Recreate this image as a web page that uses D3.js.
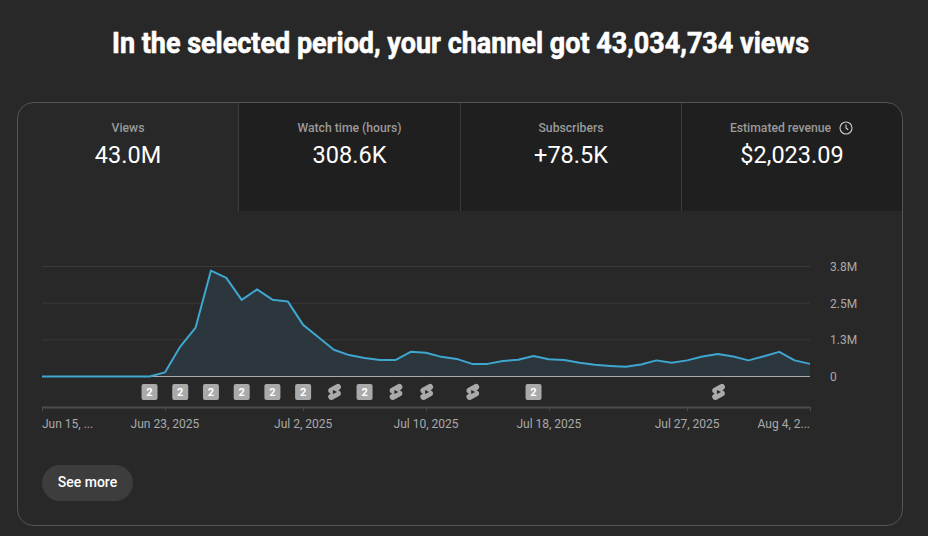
<!DOCTYPE html>
<html>
<head>
<meta charset="utf-8">
<script src="https://cdn.jsdelivr.net/npm/d3@7"></script>
<style>
html, body { margin: 0; padding: 0; background: #282828; overflow: hidden; }
svg { display: block; font-family: Roboto, sans-serif; }
</style>
</head>
<body>
<div id="chart"></div>
<script>
const width = 928;
const height = 536;

const titleText = "In the selected period, your channel got 43,034,734 views";
const tabLabels = ["Views", "Watch time (hours)", "Subscribers", "Estimated revenue"];
const tabValues = ["43.0M", "308.6K", "+78.5K", "$2,023.09"];

// daily views in millions, Jun 15 to Aug 4 2025
const dailyViews = [
    0, 0, 0, 0, 0, 0, 0, 0, 0.14, 1.02,
    1.67, 3.61, 3.36, 2.61, 2.97, 2.62, 2.56, 1.76, 1.34, 0.91,
    0.73, 0.63, 0.56, 0.56, 0.84, 0.81, 0.67, 0.60, 0.43, 0.43,
    0.53, 0.57, 0.70, 0.59, 0.56, 0.47, 0.40, 0.36, 0.33, 0.41,
    0.55, 0.47, 0.55, 0.68, 0.77, 0.68, 0.55, 0.69, 0.84, 0.55,
    0.43
];

const yTicks = [0, 1.25, 2.5, 3.75];
const yTickLabels = ["0", "1.3M", "2.5M", "3.8M"];

const xTickDays = [0, 8, 17, 25, 33, 42, 50];
const xTickLabels = ["Jun 15, ...", "Jun 23, 2025", "Jul 2, 2025", "Jul 10, 2025", "Jul 18, 2025", "Jul 27, 2025", "Aug 4, 2..."];

// upload markers: day index and kind
const markerDays = [7, 9, 11, 13, 15, 17, 19, 21, 23, 25, 28, 32, 44];
const markerKinds = ["2", "2", "2", "2", "2", "2", "s", "2", "s", "s", "s", "2", "s"];

const startDate = Date.UTC(2025, 5, 15);
const dayMs = 86400000;
const toDate = i => new Date(startDate + i * dayMs);

const x = d3.scaleUtc().domain([toDate(0), toDate(50)]).range([42, 810]);
const y = d3.scaleLinear().domain([0, 3.75]).range([376.5, 266.5]);

const svg = d3.select("#chart").append("svg")
    .attr("width", width)
    .attr("height", height);

svg.append("rect").attr("width", width).attr("height", height).attr("fill", "#282828");

svg.append("text")
    .attr("x", 460.5)
    .attr("y", 53)
    .attr("text-anchor", "middle")
    .attr("font-size", 29)
    .attr("font-weight", 700)
    .attr("textLength", 697)
    .attr("lengthAdjust", "spacingAndGlyphs")
    .attr("fill", "#fff")
    .attr("stroke", "#fff")
    .attr("stroke-width", 0.6)
    .text(titleText);

// card and tabs
const clip = svg.append("defs").append("clipPath").attr("id", "cardClip");
clip.append("rect").attr("x", 17.5).attr("y", 102.5).attr("width", 885).attr("height", 423).attr("rx", 16);

const tabEdges = [18, 239, 461, 682, 903];
const tabs = svg.append("g").attr("clip-path", "url(#cardClip)");

tabLabels.forEach((label, i) => {
    const x0 = tabEdges[i];
    const x1 = tabEdges[i + 1];
    if (i > 0) {
        tabs.append("rect")
            .attr("x", x0).attr("y", 102)
            .attr("width", x1 - x0).attr("height", 109)
            .attr("fill", "#1f1f1f");
        tabs.append("line")
            .attr("x1", x0 - 0.5).attr("x2", x0 - 0.5)
            .attr("y1", 102).attr("y2", 211)
            .attr("stroke", "#3c3c3c");
    }
    const cx = (x0 + x1) / 2 - 0.5;
    svg.append("text")
        .attr("x", i === 3 ? cx - 11.5 : cx)
        .attr("y", 132)
        .attr("text-anchor", "middle")
        .attr("font-size", 12.2)
        .attr("font-weight", 500)
        .attr("fill", "#9a9a9a")
        .text(label);
    svg.append("text")
        .attr("x", cx)
        .attr("y", 163)
        .attr("text-anchor", "middle")
        .attr("font-size", 23.5)
        .attr("fill", "#fff")
        .text(tabValues[i]);
});

svg.append("rect")
    .attr("x", 17.5).attr("y", 102.5)
    .attr("width", 885).attr("height", 423)
    .attr("rx", 16)
    .attr("fill", "none")
    .attr("stroke", "#555");

// clock icon by estimated revenue
const clock = svg.append("g").attr("transform", "translate(846,128)");
clock.append("circle").attr("r", 6).attr("fill", "none").attr("stroke", "#ccc").attr("stroke-width", 1.1);
clock.append("path").attr("d", "M0,-3.5V0L2.2,1.8").attr("fill", "none").attr("stroke", "#ccc").attr("stroke-width", 1.1);

// gridlines
svg.append("g").selectAll("line")
    .data(yTicks.slice(1))
    .join("line")
    .attr("x1", x.range()[0])
    .attr("x2", x.range()[1])
    .attr("y1", d => y(d))
    .attr("y2", d => y(d))
    .attr("stroke", "#3a3a3a");

// y axis labels
const yAxis = d3.axisRight(y)
    .tickValues(yTicks)
    .tickSize(0)
    .tickPadding(0)
    .tickFormat((d, i) => yTickLabels[i]);

svg.append("g")
    .attr("transform", "translate(830,0)")
    .call(yAxis)
    .call(g => g.select(".domain").remove())
    .call(g => g.selectAll("text")
        .attr("font-family", "Roboto, sans-serif")
        .attr("font-size", 12)
        .attr("fill", "#aaa"));

// area and line
const area = d3.area()
    .x((d, i) => x(toDate(i)))
    .y0(y(0))
    .y1(d => y(d));

const line = d3.line()
    .x((d, i) => x(toDate(i)))
    .y(d => y(d));

svg.append("path")
    .datum(dailyViews)
    .attr("d", area)
    .attr("fill", "#2c373d");

svg.append("line")
    .attr("x1", x.range()[0])
    .attr("x2", x.range()[1])
    .attr("y1", y(0))
    .attr("y2", y(0))
    .attr("stroke", "#aaa");

svg.append("path")
    .datum(dailyViews)
    .attr("d", line)
    .attr("fill", "none")
    .attr("stroke", "#3ea6cf")
    .attr("stroke-width", 2)
    .attr("stroke-linejoin", "round");

// markers
markerDays.forEach((day, i) => {
    const g = svg.append("g").attr("transform", `translate(${x(toDate(day))},392)`);
    if (markerKinds[i] === "2") {
        g.append("rect")
            .attr("x", -8).attr("y", -8)
            .attr("width", 16).attr("height", 16)
            .attr("rx", 2)
            .attr("fill", "#aaa");
        g.append("text")
            .attr("y", 4)
            .attr("text-anchor", "middle")
            .attr("font-size", 11)
            .attr("font-weight", 700)
            .attr("fill", "#fff")
            .text("2");
    } else {
        const s = g.append("g").attr("transform", "translate(0.7,0) scale(0.8) translate(-12,-12)");
        s.append("path")
            .attr("d", "M17.77 10.32l-1.2-.5L18 9.06a3.74 3.74 0 00-3.5-6.62L6 6.94a3.74 3.74 0 00.23 6.74l1.2.49L6 14.93a3.75 3.75 0 003.5 6.63l8.5-4.5a3.74 3.74 0 00-.23-6.74z")
            .attr("fill", "#aaa");
        s.append("path")
            .attr("d", "M10 14.65l5-2.65-5-2.65z")
            .attr("fill", "#282828");
    }
});

// x axis
const xAxis = d3.axisBottom(x)
    .tickValues(xTickDays.map(toDate))
    .tickSize(4)
    .tickSizeOuter(0)
    .tickPadding(8)
    .tickFormat((d, i) => xTickLabels[i]);

svg.append("g")
    .attr("transform", "translate(0,407)")
    .call(xAxis)
    .call(g => g.select(".domain").attr("stroke", "#4d4d4d").attr("stroke-width", 2))
    .call(g => g.selectAll(".tick line").attr("stroke", "#4d4d4d"))
    .call(g => g.selectAll("text")
        .attr("dx", -0.5)
        .attr("font-family", "Roboto, sans-serif")
        .attr("font-size", 12)
        .attr("fill", "#aaa")
        .attr("text-anchor", (d, i) => i === 0 ? "start" : i === xTickDays.length - 1 ? "end" : "middle"));

// see more button
svg.append("rect")
    .attr("x", 42).attr("y", 465)
    .attr("width", 91).attr("height", 36)
    .attr("rx", 18)
    .attr("fill", "#3d3d3d");

svg.append("text")
    .attr("x", 87.5)
    .attr("y", 487)
    .attr("text-anchor", "middle")
    .attr("font-size", 14)
    .attr("font-weight", 500)
    .attr("fill", "#fff")
    .text("See more");
</script>
</body>
</html>
